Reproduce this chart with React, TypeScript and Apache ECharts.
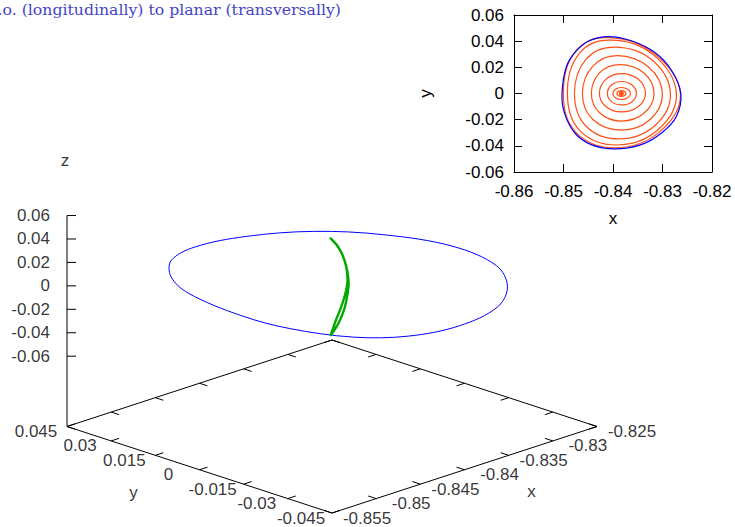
import React, { useEffect, useRef } from "react";
import * as echarts from "echarts";

const titleText = "p.o. (longitudinally) to planar (transversally)";

// 3D axis ranges
const xRange = [-0.855, -0.825];
const yRange = [-0.045, 0.045];
const zRange = [-0.06, 0.06];
const ticslevel = 0.5;

const xTicks = [-0.855, -0.85, -0.845, -0.84, -0.835, -0.83, -0.825];
const xTickLabels = ["-0.855", "-0.85", "-0.845", "-0.84", "-0.835", "-0.83", "-0.825"];
const yTicks = [0.045, 0.03, 0.015, 0, -0.015, -0.03, -0.045];
const yTickLabels = ["0.045", "0.03", "0.015", "0", "-0.015", "-0.03", "-0.045"];
const zTicks = [0.06, 0.04, 0.02, 0, -0.02, -0.04, -0.06];
const zTickLabels = ["0.06", "0.04", "0.02", "0", "-0.02", "-0.04", "-0.06"];

// planar periodic orbit (z = 0), closed loop
const planarX = [-0.8503, -0.8494, -0.8475, -0.8447, -0.841, -0.8363, -0.8316, -0.8282, -0.8263, -0.8272, -0.8302, -0.8343, -0.8397, -0.8444, -0.8477, -0.8498];
const planarY = [0, 0.0206, 0.0322, 0.0405, 0.0435, 0.0403, 0.0315, 0.0178, 0, -0.0175, -0.0302, -0.0391, -0.0424, -0.0391, -0.0302, -0.015];

// vertical periodic orbit, closed loop
const verticalX = [-0.84015, -0.83947, -0.8389, -0.83842, -0.83815, -0.83815, -0.83833, -0.83864, -0.83918, -0.83985, -0.84015, -0.83994, -0.83955, -0.83902, -0.83853, -0.83825, -0.83836, -0.83881, -0.83938];
const verticalY = [0, 0, 0, 0, 0, 0, 0, 0, 0, 0, 0, 0, 0, 0, 0, 0, 0, 0, 0];
const verticalZ = [0.0409, 0.0336, 0.0251, 0.0139, 0.0019, -0.0066, -0.0147, -0.0239, -0.0326, -0.0395, -0.0416, -0.0378, -0.0302, -0.0216, -0.0114, -0.001, 0.0112, 0.0234, 0.0325];

// manifold cuts in the section (inset), one closed loop per list
const loopsX = [
  [-0.83805, -0.83812, -0.8383, -0.83848, -0.83855, -0.83848, -0.8383, -0.83812],
  [-0.83739, -0.83765, -0.8383, -0.83895, -0.83921, -0.83895, -0.8383, -0.83765],
  [-0.83648, -0.83701, -0.8383, -0.83951, -0.84002, -0.83951, -0.8383, -0.83701],
  [-0.83527, -0.83615, -0.8383, -0.84031, -0.84113, -0.84031, -0.8383, -0.83615],
  [-0.83345, -0.83487, -0.8383, -0.84145, -0.84274, -0.84145, -0.8383, -0.83487],
  [-0.83171, -0.83375, -0.8386, -0.84266, -0.84436, -0.84266, -0.8383, -0.83369],
  [-0.83002, -0.83283, -0.83909, -0.84406, -0.84618, -0.84406, -0.8383, -0.8325],
  [-0.8284, -0.83216, -0.83971, -0.84543, -0.84779, -0.84543, -0.83878, -0.83157],
  [-0.82719, -0.83186, -0.84048, -0.8467, -0.84921, -0.8467, -0.83917, -0.83097],
  [-0.82638, -0.83173, -0.84089, -0.84743, -0.85002, -0.84743, -0.83947, -0.83066],
];
const loopsY = [
  [0, 0.0008, 0.0011, 0.0008, 0, -0.0008, -0.0011, -0.0008],
  [0, 0.00153, 0.00214, 0.00153, 0, -0.00153, -0.00214, -0.00153],
  [0, 0.00325, 0.00458, 0.00325, 0, -0.00325, -0.00458, -0.00325],
  [0, 0.0065, 0.00916, 0.0065, 0, -0.00623, -0.00877, -0.00623],
  [0, 0.01083, 0.01526, 0.01083, 0, -0.01, -0.01412, -0.01],
  [0, 0.01572, 0.02213, 0.01595, 0, -0.01495, -0.02106, -0.01495],
  [0, 0.0203, 0.029, 0.0209, 0, -0.01984, -0.02793, -0.01984],
  [0, 0.0258, 0.03548, 0.02625, 0, -0.02503, -0.03472, -0.02464],
  [0, 0.0295, 0.04082, 0.03105, 0, -0.02838, -0.03937, -0.02793],
  [0, 0.0305, 0.04273, 0.03289, 0, -0.02991, -0.04158, -0.02953],
];

// layout of the 3D view (pixels)
const ORIGIN = [332, 513];
const EU = [265, -86.5];
const EV = [-265, -86.5];
const ZPX = 1172;
const TICK = 0.03;
const FONT = "Liberation Sans";

const zBase = zRange[0] - ticslevel * (zRange[1] - zRange[0]);

function proj(x: number, y: number, z: number): [number, number] {
  const u = (x - xRange[0]) / (xRange[1] - xRange[0]);
  const v = (y - yRange[0]) / (yRange[1] - yRange[0]);
  return [
    ORIGIN[0] + EU[0] * u + EV[0] * v,
    ORIGIN[1] + EU[1] * u + EV[1] * v - (z - zBase) * ZPX,
  ];
}

function loopSeries(
  xIdx: number,
  yIdx: number,
  loops: [number, number][][],
  color: string,
  widths: number[],
  smooth: number
) {
  return {
    type: "custom",
    xAxisIndex: xIdx,
    yAxisIndex: yIdx,
    silent: true,
    data: loops.map((l) => [l[0][0], l[0][1]]),
    encode: { x: 0, y: 1 },
    renderItem: (params: any, api: any) => {
      const pts = loops[params.dataIndex].map((p) => api.coord(p));
      return {
        type: "polygon",
        shape: { points: pts, smooth },
        style: { fill: "none", stroke: color, lineWidth: widths[params.dataIndex] },
      };
    },
  };
}

export default function App() {
  const ref = useRef<HTMLDivElement>(null);
  useEffect(() => {
    if (!ref.current) return;
    const chart = echarts.init(ref.current, undefined, { renderer: "svg" });
    const [X0, X1] = xRange;
    const [Y0, Y1] = yRange;
    const dx = X1 - X0;
    const dy = Y1 - Y0;

    const segs: [number, number][][] = [];
    segs.push([proj(X0, Y0, zBase), proj(X1, Y0, zBase), proj(X1, Y1, zBase), proj(X0, Y1, zBase), proj(X0, Y0, zBase)]);
    segs.push([proj(X0, Y1, zBase), proj(X0, Y1, zRange[1])]);
    xTicks.forEach((x) => {
      segs.push([proj(x, Y0, zBase), proj(x, Y0 + TICK * dy, zBase)]);
      segs.push([proj(x, Y1, zBase), proj(x, Y1 - TICK * dy, zBase)]);
    });
    yTicks.forEach((y) => {
      segs.push([proj(X0, y, zBase), proj(X0 + TICK * dx, y, zBase)]);
      segs.push([proj(X1, y, zBase), proj(X1 - TICK * dx, y, zBase)]);
    });
    zTicks.forEach((z) => {
      const p = proj(X0, Y1, z);
      segs.push([p, [p[0] + 9, p[1]]]);
    });

    const planar3d = planarX.map((x, i) => proj(x, planarY[i], 0));
    const vertical3d = verticalX.map((x, i) => proj(x, verticalY[i], verticalZ[i]));
    const planar2d: [number, number][] = planarX.map((x, i) => [x, planarY[i]]);
    const loops2d: [number, number][][] = loopsX.map((lx, k) => lx.map((x, i) => [x, loopsY[k][i]] as [number, number]));

    const labelStyle = { color: "#000", fontSize: 17, fontFamily: FONT };

    const xLab = xTicks.map((x, i) => [...proj(x, Y0, zBase), xTickLabels[i]]);
    const yLab = yTicks.map((y, i) => [...proj(X0, y, zBase), yTickLabels[i]]);
    const zLab = zTicks.map((z, i) => [...proj(X0, Y1, z), zTickLabels[i]]);
    const titles = [
      [...proj(X0, Y1, zRange[1]), "z", -2, -55],
      [...proj(X0, 0, zBase), "y", -66, 23],
      [...proj(-0.84, Y0, zBase), "x", 67, 22],
    ];

    const labelSeries = (data: any[], label: any) => ({
      type: "scatter",
      xAxisIndex: 0,
      yAxisIndex: 0,
      symbolSize: 0,
      silent: true,
      data,
      label: { show: true, formatter: (p: any) => p.data[2], ...labelStyle, ...label },
    });

    const insetAxisBase = {
      type: "value",
      gridIndex: 1,
      axisLine: { show: true, onZero: false, lineStyle: { color: "#000", width: 1 } },
      axisTick: { show: true, inside: true, length: 8, lineStyle: { color: "#000", width: 1 } },
      splitLine: { show: false },
    };

    const option: any = {
      animation: false,
      backgroundColor: "#fff",
      grid: [
        { left: 0, top: 0, width: 735, height: 527 },
        { left: 514, top: 15, width: 198, height: 157 },
      ],
      xAxis: [
        { type: "value", gridIndex: 0, min: 0, max: 735, show: false },
        {
          ...insetAxisBase,
          position: "bottom",
          min: -0.86,
          max: -0.82,
          interval: 0.01,
          axisLabel: { ...labelStyle, margin: 11, showMinLabel: true, showMaxLabel: true },
          name: "x",
          nameLocation: "middle",
          nameGap: 38,
          nameTextStyle: labelStyle,
        },
        {
          ...insetAxisBase,
          position: "top",
          min: -0.86,
          max: -0.82,
          interval: 0.01,
          axisLabel: { show: false },
        },
      ],
      yAxis: [
        { type: "value", gridIndex: 0, min: 0, max: 527, inverse: true, show: false },
        {
          ...insetAxisBase,
          position: "left",
          min: -0.06,
          max: 0.06,
          interval: 0.02,
          axisLabel: { ...labelStyle, margin: 10, showMinLabel: true, showMaxLabel: true },
          name: "y",
          nameLocation: "middle",
          nameGap: 80,
          nameTextStyle: labelStyle,
        },
        {
          ...insetAxisBase,
          position: "right",
          min: -0.06,
          max: 0.06,
          interval: 0.02,
          axisLabel: { show: false },
        },
      ],
      graphic: [
        {
          type: "text",
          x: 341,
          y: 1,
          style: {
            text: titleText,
            textAlign: "right",
            textVerticalAlign: "top",
            fontSize: 15.7,
            fontFamily: "DejaVu Serif",
            fill: "#4444c8",
          },
        },
      ],
      series: [
        {
          type: "lines",
          coordinateSystem: "cartesian2d",
          xAxisIndex: 0,
          yAxisIndex: 0,
          polyline: true,
          silent: true,
          data: segs.map((s) => ({ coords: s })),
          lineStyle: { color: "#000", width: 1, opacity: 1 },
        },
        loopSeries(0, 0, [planar3d], "#0000ff", [1], 0.35),
        loopSeries(0, 0, [vertical3d], "#00aa00", [2.4], 0.3),
        labelSeries(xLab, { position: "inside", offset: [35, 5] }),
        labelSeries(yLab, { position: "inside", offset: [-31, 5] }),
        labelSeries(zLab, { position: "left", distance: 17 }),
        ...titles.map((t) => labelSeries([t], { position: "inside", offset: [t[3], t[4]] })),
        loopSeries(1, 1, loops2d, "#ff4f14", [2.5, 1.2, 1.2, 1.2, 1.2, 1.2, 1.2, 1.2, 1.2, 1.2], 0.4),
        loopSeries(1, 1, [planar2d], "#0000ff", [1.2], 0.35),
      ],
    };
    chart.setOption(option);
    return () => chart.dispose();
  }, []);
  return (
    <div
      ref={ref}
      style={{ position: "absolute", left: 0, top: 0, width: 735, height: 527 }}
    />
  );
}
